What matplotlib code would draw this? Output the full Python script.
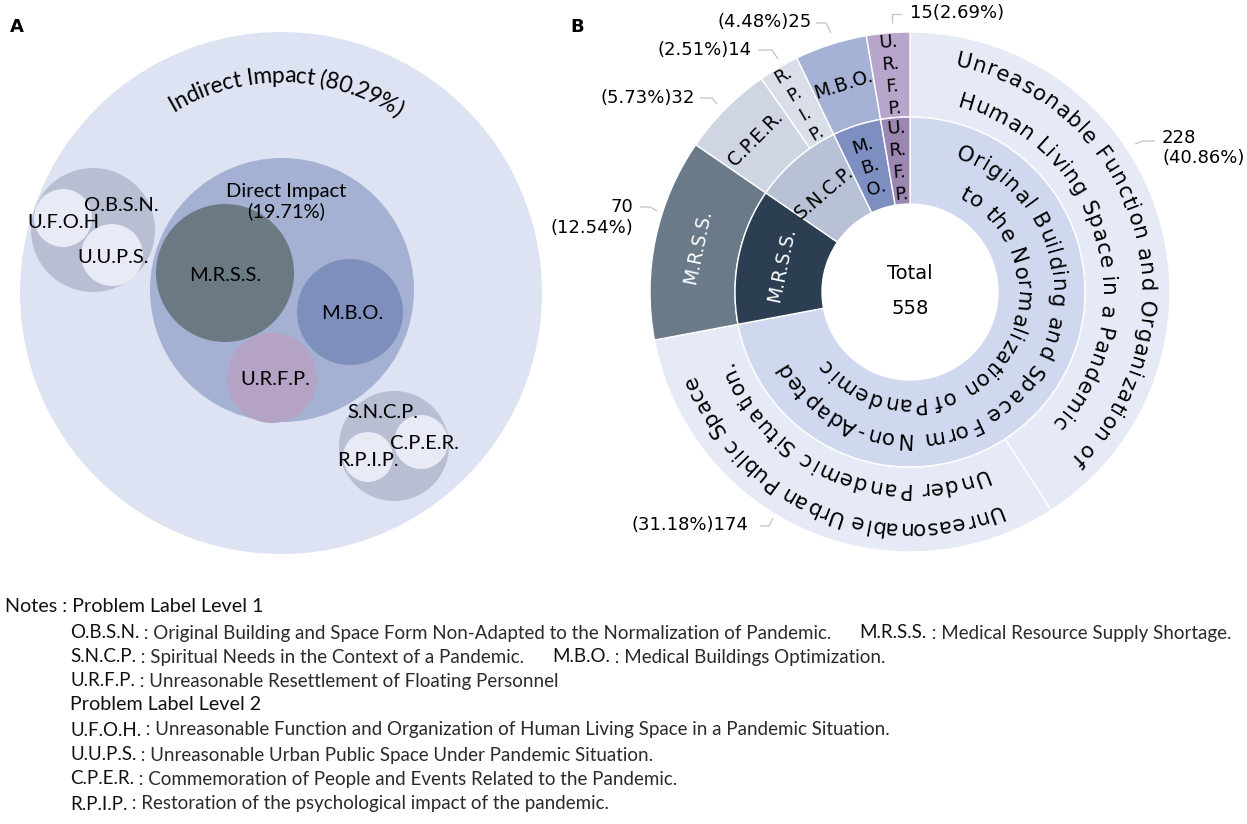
import numpy as np
import matplotlib
matplotlib.use("Agg")
import matplotlib.pyplot as plt
from matplotlib.patches import Circle
from matplotlib.font_manager import FontProperties, findfont, get_font
try:
    from matplotlib.ft2font import LoadFlags
    NOHINT = LoadFlags.NO_HINTING
except Exception:
    NOHINT = 2

# ---------------- data ----------------
total_count = 558
outer_labels = ["U.F.O.H.", "U.U.P.S.", "M.R.S.S.", "C.P.E.R.", "R.P.I.P.", "M.B.O.", "U.R.F.P."]
outer_values = [228, 174, 70, 32, 14, 25, 15]
outer_pct = ["40.86%", "31.18%", "12.54%", "5.73%", "2.51%", "4.48%", "2.69%"]
inner_labels = ["O.B.S.N.", "M.R.S.S.", "S.N.C.P.", "M.B.O.", "U.R.F.P."]
inner_values = [402, 70, 46, 25, 15]
outer_long = {"U.F.O.H.": ["Unreasonable Function and Organization of",
                           "Human Living Space in a Pandemic"],
              "U.U.P.S.": ["Unreasonable Urban Public Space",
                           "Under Pandemic Situation."]}
inner_long = {"O.B.S.N.": ["Original Building and Space Form Non-Adapted",
                           "to the Normalization of Pandemic"]}

impact_names = ["Indirect Impact", "Direct Impact"]
impact_pct = ["80.29%", "19.71%"]
pack_names = ["Indirect", "Direct", "M.R.S.S.", "M.B.O.", "U.R.F.P.", "O.B.S.N.",
              "U.F.O.H", "U.U.P.S.", "S.N.C.P.", "C.P.E.R.", "R.P.I.P."]

notes_title = "Notes : Problem Label Level 1"
level1_notes = [[("O.B.S.N.", "Original Building and Space Form Non-Adapted to the Normalization of Pandemic."),
                 ("M.R.S.S.", "Medical Resource Supply Shortage.")],
                [("S.N.C.P.", "Spiritual Needs in the Context of a Pandemic."),
                 ("M.B.O.", "Medical Buildings Optimization.")],
                [("U.R.F.P.", "Unreasonable Resettlement of Floating Personnel")]]
level2_title = "Problem Label Level 2"
level2_notes = [[("U.F.O.H.", "Unreasonable Function and Organization of Human Living Space in a Pandemic Situation.")],
                [("U.U.P.S.", "Unreasonable Urban Public Space Under Pandemic Situation.")],
                [("C.P.E.R.", "Commemoration of People and Events Related to the Pandemic.")],
                [("R.P.I.P.", "Restoration of the psychological impact of the pandemic.")]]

# ---------------- style ----------------
outer_colors = ["#e6eaf6", "#e6eaf6", "#6b7a88", "#d0d5e4", "#dadee9", "#a5b2d5", "#b8a5cb"]
inner_colors = ["#d0d8f0", "#2c3e52", "#b9c1d6", "#7d8fc0", "#9c86b2"]

W, H = 1247, 824
fig = plt.figure(figsize=(W / 100, H / 100), dpi=100)
ax = fig.add_axes([0, 0, 1, 1])


def Y(y):
    return H - y


SB = "DejaVu Sans"
PA = "Lato"


def advances(s, prop):
    f = get_font(findfont(prop))
    f.set_size(prop.get_size_in_points(), 100)
    out = []
    for ch in s:
        g = f.load_char(ord(ch), flags=NOHINT)
        out.append(g.linearHoriAdvance / 65536.0)
    return np.array(out)


def arc_text(s, cx, cy, r, theta_c, span, prop, color="black"):
    adv = advances(s, prop)
    scale = np.radians(span) * r / adv.sum()
    pos = (np.cumsum(adv) - adv / 2) * scale
    th0 = theta_c - span / 2
    for ch, p in zip(s, pos):
        if ch == " ":
            continue
        th = th0 + np.degrees(p / r)
        t = np.radians(th)
        ax.text(cx + r * np.sin(t), cy + r * np.cos(t), ch, rotation=-th,
                rotation_mode="anchor", ha="center", va="center",
                fontproperties=prop, color=color)


# ================= Panel A : circle packing =================
pack_layout = {  # name: (x, y, r, colour) in image pixels
    "Indirect": (281, 293, 261, "#dde3f3"),
    "Direct": (282, 290, 132, "#a5b1d3"),
    "M.R.S.S.": (225, 273, 69, "#6b7983"),
    "M.B.O.": (350, 312, 53, "#7e8fbe"),
    "U.R.F.P.": (272, 378, 45, "#b4a3c4"),
    "O.B.S.N.": (93, 230, 62, "#b8bfd3"),
    "U.F.O.H": (63, 218, 29, "#e8ebf6"),
    "U.U.P.S.": (112, 255, 31, "#e8ebf6"),
    "S.N.C.P.": (394, 446, 55, "#b8bfd3"),
    "C.P.E.R.": (421, 442, 27, "#e8ebf6"),
    "R.P.I.P.": (368, 457, 25, "#e8ebf6"),
}
pack_text_pos = {
    "M.R.S.S.": (225, 275), "M.B.O.": (352, 313), "U.R.F.P.": (275, 379),
    "O.B.S.N.": (121, 205), "U.F.O.H": (63, 222), "U.U.P.S.": (113, 257),
    "S.N.C.P.": (383, 412), "C.P.E.R.": (424, 443), "R.P.I.P.": (368, 460),
}
for name in pack_names:
    x, y, r, c = pack_layout[name]
    ax.add_patch(Circle((x, Y(y)), r, facecolor=c, edgecolor="none", zorder=1))
for name, (x, y) in pack_text_pos.items():
    ax.text(x, Y(y), name, ha="center", va="center", fontsize=14.5, family=PA,
            color="black", zorder=3)

ix, iy, ir, _ = pack_layout["Indirect"]
arc_text(f"{impact_names[0]} ({impact_pct[0]})", ix, Y(iy), 217, 1.4, 64,
         FontProperties(family=PA, size=16.5))
ax.text(286, Y(191), impact_names[1], ha="center", va="center", fontsize=14.5, family=PA, zorder=3)
ax.text(286, Y(211), f"({impact_pct[1]})", ha="center", va="center", fontsize=14.5, family=PA, zorder=3)

# ================= Panel B : sunburst =================
CX, CY = 910, Y(292)
R_OUT, R_MID, R_IN = 260, 175, 88
ax.pie(outer_values, radius=R_OUT, center=(CX, CY), startangle=90, counterclock=False,
       colors=outer_colors, wedgeprops=dict(width=R_OUT - R_MID, edgecolor="white", linewidth=1.0))
ax.pie(inner_values, radius=R_MID, center=(CX, CY), startangle=90, counterclock=False,
       colors=inner_colors, wedgeprops=dict(width=R_MID - R_IN, edgecolor="white", linewidth=1.0))


def bounds(vals):
    c = np.concatenate([[0], np.cumsum(vals)]) / np.sum(vals) * 360.0
    return c[:-1], c[1:]


def seg_labels(labels, vals, r0, r1, long_names, line_r, fracs):
    a0, a1 = bounds(vals)
    rm = (r0 + r1) / 2
    for lab, s, e in zip(labels, a0, a1):
        mid = (s + e) / 2
        if lab in long_names:
            for txt, rr, fr in zip(long_names[lab], line_r, fracs[lab]):
                arc_text(txt, CX, CY, rr, mid, (e - s) * fr, FontProperties(family=SB, size=15.5))
            continue
        arc_len = np.radians(e - s) * rm
        t = np.radians(mid)
        stacked = arc_len <= 50
        txt = lab if not stacked else "\n".join(p + "." for p in lab.split(".")[:-1])
        col = "white" if lab == "M.R.S.S." else "black"
        ax.text(CX + rm * np.sin(t), CY + rm * np.cos(t), txt, rotation=-mid,
                rotation_mode="anchor", ha="center", va="center",
                fontsize=13 if stacked else 13.5,
                family=SB, color=col, linespacing=1.3, zorder=4)


seg_labels(outer_labels, outer_values, R_MID, R_OUT, outer_long, [236, 197],
           {"U.F.O.H.": [0.85, 0.81], "U.U.P.S.": [0.82, 0.83]})
seg_labels(inner_labels, inner_values, R_IN, R_MID, inner_long, [147, 112],
           {"O.B.S.N.": [0.86, 0.79]})

ax.text(CX, Y(273), "Total", ha="center", va="center", fontsize=14, family=SB)
ax.text(CX, Y(308), str(total_count), ha="center", va="center", fontsize=14, family=SB)

# value labels with leader lines (layout in image px)
vlabel_layout = {
    "U.R.F.P.": ([(910, 13, "left")], [(892, 23), (892, 14), (902, 14)]),
    "M.B.O.": ([(812, 22, "right")], [(816, 23), (826, 23), (831, 33)]),
    "R.P.I.P.": ([(752, 50, "right")], [(758, 50), (772, 50), (778, 59)]),
    "C.P.E.R.": ([(695, 98, "right")], [(700, 98), (712, 98), (717, 104)]),
    "M.R.S.S.": ([(633, 207, "right"), (633, 228, "right")], [(640, 207), (650, 207), (657, 211)]),
    "U.F.O.H.": ([(1162, 138, "left"), (1162, 158, "left")], [(1135, 144), (1143, 141), (1155, 141)]),
    "U.U.P.S.": ([(748, 525, "right")], [(760, 526), (769, 526), (773, 518)]),
}
for lab, val, pct in zip(outer_labels, outer_values, outer_pct):
    pos, line = vlabel_layout[lab]
    if lab == "U.R.F.P.":
        texts = [f"{val}({pct})"]
    elif len(pos) == 2:
        texts = [f"{val}", f"({pct})"]
    else:
        texts = [f"({pct}){val}"]
    for t, (x, y, ha) in zip(texts, pos):
        ax.text(x, Y(y), t, ha=ha, va="center", fontsize=13, family=SB)
    lx, ly = zip(*line)
    ax.plot(lx, [Y(v) for v in ly], color="#c4c4c4", lw=0.9, solid_capstyle="butt")

# panel letters
ax.text(17, Y(27), "A", ha="center", va="center", fontsize=13, fontweight="bold", family=SB)
ax.text(577, Y(27), "B", ha="center", va="center", fontsize=13, fontweight="bold", family=SB)

# ================= Notes =================
NFS = 13.5
IND = 70
PAIR_GAP = 20  # points between the two definitions on one line


def note_line(pairs, y, x):
    prev = None
    for ab, desc in pairs:
        if prev is None:
            t = ax.text(x, Y(y), ab, ha="left", va="center", fontsize=NFS, family=PA, color="#111111")
        else:
            t = ax.annotate(ab, xy=(1, 0), xycoords=prev, xytext=(PAIR_GAP, 0),
                            textcoords="offset points", ha="left", va="bottom",
                            fontsize=NFS, family=PA, color="#111111")
        prev = ax.annotate(" : " + desc, xy=(1, 0), xycoords=t, ha="left", va="bottom",
                           fontsize=NFS, family=PA, color="#2a2a2a")


ax.text(5, Y(607), notes_title, ha="left", va="center", fontsize=14.2, family=PA, color="#111111")
for pairs, y in zip(level1_notes, [633, 657, 681]):
    note_line(pairs, y, IND)
ax.text(IND, Y(705), level2_title, ha="left", va="center", fontsize=14.2, family=PA, color="#111111")
for pairs, y in zip(level2_notes, [730, 755, 779, 804]):
    note_line(pairs, y, IND)

ax.set_xlim(0, W)
ax.set_ylim(0, H)
ax.set_aspect("auto")
ax.axis("off")
fig.savefig("out.png", dpi=100, facecolor="white")
